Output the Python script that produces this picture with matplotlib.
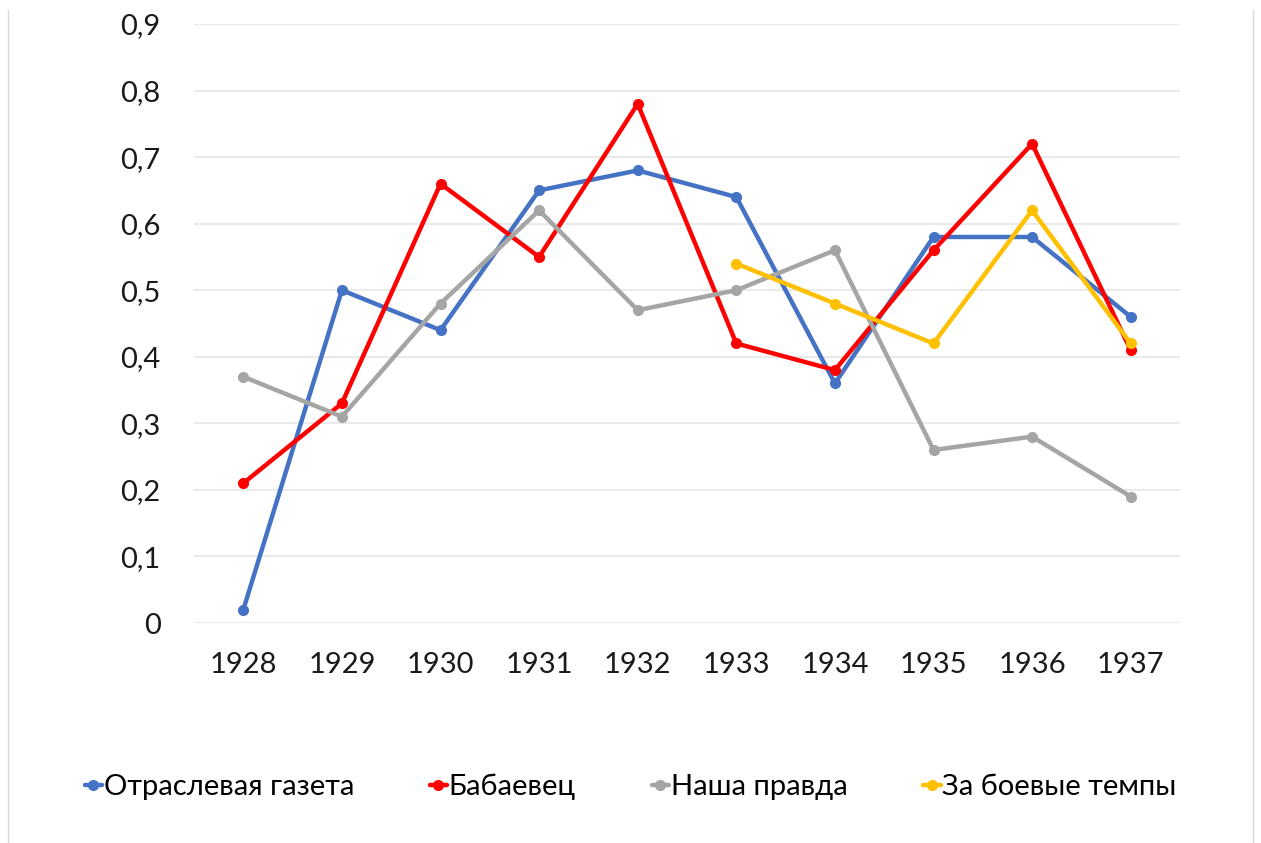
import numpy as np
import matplotlib.pyplot as plt
from matplotlib.lines import Line2D

plt.rcParams['font.family'] = ['Lato', 'DejaVu Sans']

# Data
years = ['1928', '1929', '1930', '1931', '1932', '1933', '1934', '1935', '1936', '1937']
otrasl = [0.02, 0.50, 0.44, 0.65, 0.68, 0.64, 0.36, 0.58, 0.58, 0.46]
babaevets = [0.21, 0.33, 0.66, 0.55, 0.78, 0.42, 0.38, 0.56, 0.72, 0.41]
nasha = [0.37, 0.31, 0.48, 0.62, 0.47, 0.50, 0.56, 0.26, 0.28, 0.19]
za_tempy = [np.nan, np.nan, np.nan, np.nan, np.nan, 0.54, 0.48, 0.42, 0.62, 0.42]

series = [
    ('Отраслевая газета', otrasl, '#4472C4'),
    ('Бабаевец', babaevets, '#FF0000'),
    ('Наша правда', nasha, '#A5A5A5'),
    ('За боевые темпы', za_tempy, '#FFC000'),
]

fig = plt.figure(figsize=(12.61, 8.43), dpi=100)
ax = fig.add_axes([194 / 1261, 1 - 623 / 843, (1180 - 194) / 1261, (623 - 24) / 843])

x = np.arange(len(years))
for label, vals, color in series:
    ax.plot(x, vals, color=color, lw=3.2, marker='o', ms=7, label=label,
            solid_capstyle='round', solid_joinstyle='round')

ax.set_xlim(-0.5, len(years) - 0.5)
ax.set_ylim(0, 0.9)
ticks = np.arange(0, 0.91, 0.1)
ax.set_yticks(ticks)
ax.set_yticklabels(['0'] + [f'{t:.1f}'.replace('.', ',') for t in ticks[1:]])
ax.set_xticks(x)
ax.set_xticklabels(years)
ax.tick_params(axis='both', length=0, labelsize=21, colors='#1a1a1a')
ax.tick_params(axis='y', pad=24)
ax.tick_params(axis='x', pad=21)
ax.grid(axis='y', color='#E6E6E6', lw=1.2)
ax.set_axisbelow(True)
for s in ax.spines.values():
    s.set_visible(False)

fig.legend(loc='center', bbox_to_anchor=(0.5, 1 - 787 / 843), ncol=4, frameon=False,
           fontsize=21, handlelength=0.6, handletextpad=0.05, columnspacing=2.6,
           borderaxespad=0)

# thin frame edges of the original chart box
for xf in (8 / 1261, 1253 / 1261):
    fig.add_artist(Line2D([xf, xf], [0, 1 - 10 / 843], transform=fig.transFigure,
                          color='#D9D9D9', lw=1))

fig.savefig('out.png', dpi=100)
